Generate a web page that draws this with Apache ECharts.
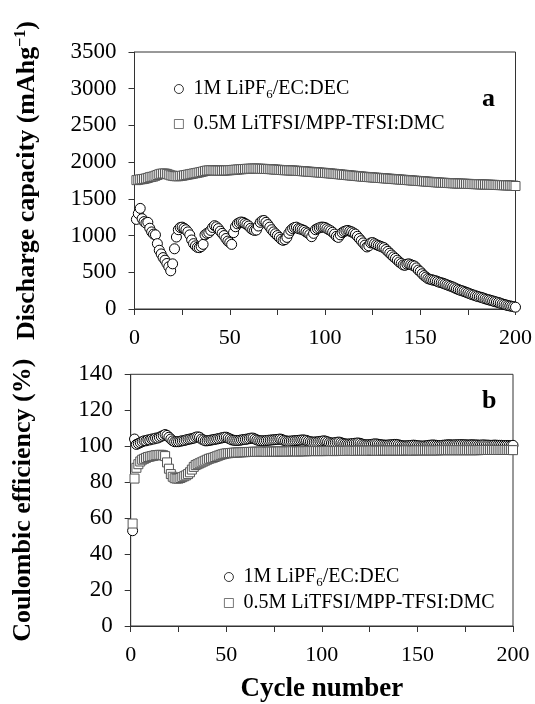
<!DOCTYPE html>
<html><head><meta charset="utf-8">
<script src="https://cdn.jsdelivr.net/npm/echarts@6/dist/echarts.min.js"></script>
<style>html,body{margin:0;padding:0;background:#fff}#c{width:535px;height:704px}</style>
</head><body><div id="c"></div>
<script>
const cycles = Array.from({length: 200}, (_, i) => i + 1);

const capLiPF6 = [
1220,1300,1370,1230,1190,1170,1180,1100,1050,1020,
1010,890,800,750,700,665,620,575,520,615,
820,980,1080,1110,1115,1100,1080,1050,1010,940,
890,860,840,835,850,880,1010,1030,1040,1070,
1110,1135,1120,1095,1060,1030,1000,960,925,905,
880,1040,1120,1160,1175,1185,1180,1165,1150,1130,
1100,1080,1070,1075,1130,1180,1200,1205,1180,1150,
1115,1080,1050,1025,1000,975,950,935,945,975,
1030,1070,1095,1110,1115,1095,1090,1080,1070,1050,
1035,1015,985,1030,1080,1095,1105,1115,1115,1110,
1095,1080,1065,1045,1020,990,975,1010,1040,1055,
1065,1070,1060,1050,1035,1020,990,960,930,900,
870,845,860,900,905,890,875,865,855,845,
835,810,785,760,735,710,690,665,640,620,
600,595,610,615,605,595,585,560,530,510,
480,455,435,415,405,398,392,385,375,365,
358,350,340,330,320,310,300,288,275,265,
255,248,238,228,218,208,198,190,180,172,
165,158,150,140,132,125,118,110,102,95,
88,80,70,62,55,47,42,37,32,25];

const capLiTFSI = [
1755,1760,1765,1768,1772,1778,1785,1795,1800,1805,
1815,1825,1835,1842,1845,1845,1840,1830,1820,1815,
1810,1808,1808,1812,1815,1820,1825,1830,1835,1840,
1845,1850,1855,1860,1866,1872,1880,1885,1888,1890,
1888,1887,1886,1885,1885,1885,1886,1887,1888,1890,
1892,1895,1897,1899,1901,1903,1905,1907,1909,1910,
1911,1912,1912,1912,1911,1910,1909,1908,1907,1906,
1905,1903,1901,1899,1897,1895,1893,1891,1890,1889,
1888,1887,1886,1885,1883,1881,1879,1877,1875,1873,
1871,1869,1867,1865,1863,1861,1859,1857,1855,1853,
1850,1848,1846,1843,1841,1838,1836,1833,1830,1828,
1825,1822,1820,1817,1815,1812,1810,1807,1805,1802,
1800,1798,1796,1794,1792,1790,1788,1786,1784,1782,
1780,1778,1776,1774,1772,1770,1768,1766,1764,1762,
1760,1758,1756,1754,1752,1750,1748,1746,1744,1742,
1740,1738,1736,1734,1732,1730,1728,1726,1724,1722,
1720,1719,1718,1716,1715,1714,1712,1711,1710,1709,
1708,1707,1706,1705,1704,1703,1702,1701,1700,1699,
1698,1697,1696,1695,1694,1693,1692,1691,1690,1689,
1688,1687,1686,1685,1684,1683,1682,1681,1680,1675];

const ceLiPF6 = [
53,104,101,101.5,102,102.5,103,103,103.5,103.5,
104,104,104.5,104.5,105,105.5,106,106.5,106,105,
104,103,102.5,102.5,102.5,102.8,103,103.2,103.5,103.8,
104,104.2,104.5,105,105.2,105,104,103.5,103,103,
103.2,103.4,103.6,103.8,104,104.2,104.5,104.7,105,105,
104.5,104,103.5,103.3,103.2,103.2,103.3,103.5,103.7,103.8,
104,104.2,104.5,104.5,104,103.5,103.2,103,103,103,
103.2,103.3,103.4,103.5,103.6,103.7,103.8,104,103.8,103.3,
103,102.8,102.8,102.9,103,103.1,103.2,103.3,103.4,103.5,
103.4,103.2,102.8,102.5,102.3,102.3,102.4,102.5,102.7,102.8,
103,102.8,102.4,102,101.8,101.8,102,102.2,102.3,102,
101.6,101.3,101.2,101.2,101.3,101.5,101.6,101.7,101.8,101.6,
101.2,100.9,100.8,100.8,100.9,101,101.2,101.3,101.2,101,
100.8,100.7,100.6,100.6,100.7,100.8,100.9,101,101,100.8,
100.5,100.3,100.2,100.2,100.3,100.4,100.5,100.6,100.5,100.3,
100.2,100.1,100.1,100.2,100.3,100.5,100.6,100.7,100.6,100.5,
100.4,100.4,100.5,100.6,100.7,100.8,100.8,100.7,100.7,100.8,
100.8,100.9,100.9,100.8,100.8,100.7,100.7,100.8,100.8,100.7,
100.7,100.6,100.6,100.7,100.7,100.6,100.6,100.5,100.5,100.6,
100.6,100.5,100.5,100.5,100.4,100.4,100.4,100.3,100.3,100.5];

const ceLiTFSI = [
57,82,88,90,91.5,92.5,93,93.5,94,94.2,
94.5,94.7,95,95,95.2,95.2,95,94.5,91,87.5,
84.5,83,82.2,82,82,82.3,82.8,83.3,83.8,84.5,
85.5,87,88.5,89.5,90,90.5,91,91.5,92,92.5,
93,93.3,93.6,94,94.4,94.8,95.2,95.5,95.8,96,
96.1,96.2,96.3,96.4,96.5,96.5,96.6,96.6,96.7,96.7,
96.8,96.8,96.8,96.9,96.9,96.9,96.9,97,97,97,
96.9,96.9,97,97,97,97,97,97.1,97.1,97.1,
97.1,97.1,97.1,97.2,97.2,97.2,97.1,97.1,97.2,97.2,
97.2,97.2,97.3,97.3,97.3,97.3,97.3,97.3,97.3,97.3,
97.3,97.3,97.4,97.4,97.4,97.3,97.3,97.4,97.4,97.4,
97.4,97.4,97.4,97.5,97.5,97.5,97.4,97.4,97.5,97.5,
97.5,97.5,97.5,97.5,97.5,97.6,97.6,97.5,97.5,97.5,
97.5,97.6,97.6,97.6,97.6,97.6,97.6,97.6,97.6,97.6,
97.6,97.6,97.6,97.7,97.7,97.7,97.6,97.6,97.7,97.7,
97.7,97.7,97.7,97.7,97.7,97.7,97.7,97.7,97.7,97.7,
97.7,97.8,97.8,97.8,97.8,97.8,97.8,97.8,97.8,97.8,
97.8,97.8,97.8,97.8,97.8,97.8,97.8,97.8,97.8,97.8,
97.8,97.8,97.9,97.9,97.9,97.9,97.9,97.9,97.9,97.9,
97.9,97.9,97.9,97.9,97.9,97.9,97.9,97.9,97.9,97.8];

const capTicks = [0, 500, 1000, 1500, 2000, 2500, 3000, 3500];
const ceTicks = [0, 20, 40, 60, 80, 100, 120, 140];
const xTickLabels = [0, 50, 100, 150, 200];

const NAME_A = 'LiPF6', NAME_B = 'LiTFSI';
const FONT = 'Liberation Serif';
const AX = '#333';

function pairs(vals) { return cycles.map((c, i) => [c, vals[i]]); }

function xAxis(gi, withName) {
  const a = {
    type: 'value', gridIndex: gi, min: 0, max: 200, interval: 25,
    axisLine: {show: true, lineStyle: {color: AX, width: 1}},
    axisTick: {show: true, inside: false, length: 6, lineStyle: {color: AX}},
    splitLine: {show: false},
    axisLabel: {margin: 18, fontSize: 22, fontFamily: FONT, color: '#000',
      formatter: v => xTickLabels.indexOf(v) >= 0 ? String(v) : ''}
  };
  if (withName) {
    a.name = 'Cycle number';
    a.nameLocation = 'middle';
    a.nameGap = 50;
    a.nameTextStyle = {fontSize: 27, fontWeight: 'bold', fontFamily: FONT, color: '#000'};
  }
  return a;
}

function yAxis(gi, ticks, name, rich) {
  return {
    type: 'value', gridIndex: gi, min: ticks[0], max: ticks[ticks.length - 1],
    interval: ticks[1] - ticks[0],
    axisLine: {show: true, lineStyle: {color: AX, width: 1}},
    axisTick: {show: true, inside: false, length: 6, lineStyle: {color: AX}},
    splitLine: {show: false},
    axisLabel: {margin: 18, fontSize: 23, fontFamily: FONT, color: '#000',
      formatter: v => String(v)},
    name: name, nameLocation: 'middle', nameGap: 92, nameRotate: 90,
    nameTextStyle: {fontSize: 26, fontWeight: 'bold', fontFamily: FONT, color: '#000', rich: rich}
  };
}

const titleRich = {
  t: {fontSize: 26, fontWeight: 'bold', fontFamily: FONT, color: '#000', lineHeight: 30},
  sup: {fontSize: 16, fontWeight: 'bold', fontFamily: FONT, color: '#000', lineHeight: 14, verticalAlign: 'top'}
};

const legendRich = {
  n: {fontSize: 20, fontFamily: FONT, color: '#000', lineHeight: 24},
  s: {fontSize: 13, fontFamily: FONT, color: '#000', lineHeight: 12, verticalAlign: 'bottom'}
};
function legendFmt(name) {
  return name === NAME_A ? '{n| 1M LiPF}{s|6}{n|/EC:DEC}' : '{n| 0.5M LiTFSI/MPP-TFSI:DMC}';
}
function legend(left, top, gap) {
  return {
    orient: 'vertical', left: left, top: top, padding: 0,
    itemWidth: 9, itemHeight: 9, itemGap: gap, selectedMode: false,
    itemStyle: {borderWidth: 0.8},
    data: [{name: NAME_A, icon: 'circle'}, {name: NAME_B, icon: 'rect'}],
    formatter: legendFmt,
    textStyle: {rich: legendRich}
  };
}

const circleStyle = {color: '#fff', borderColor: '#000', borderWidth: 1, opacity: 1};
const squareStyle = {color: '#fff', borderColor: '#555', borderWidth: 1, opacity: 1};

const chart = echarts.init(document.getElementById('c'), null, {renderer: 'canvas'});
chart.setOption({
  animation: false,
  backgroundColor: '#fff',
  title: [
    {text: 'a', left: 482, top: 86, padding: 0, textStyle: {fontSize: 26, fontWeight: 'bold', fontFamily: FONT, color: '#000'}},
    {text: 'b', left: 482, top: 388, padding: 0, textStyle: {fontSize: 26, fontWeight: 'bold', fontFamily: FONT, color: '#000'}}
  ],
  legend: [legend(174, 79, 13), legend(224, 567, 4)],
  grid: [
    {left: 134.5, top: 52, width: 382, height: 257, show: true, borderColor: AX, borderWidth: 1, backgroundColor: 'transparent'},
    {left: 130.7, top: 374.3, width: 382.3, height: 254.4, show: true, borderColor: AX, borderWidth: 1, backgroundColor: 'transparent'}
  ],
  xAxis: [xAxis(0, false), xAxis(1, true)],
  yAxis: [
    yAxis(0, capTicks, '{t|Discharge capacity (mAhg}{sup|−1}{t|)}', titleRich),
    yAxis(1, ceTicks, '{t|Coulombic efficiency (%)}', titleRich)
  ],
  series: [
    {name: NAME_B, type: 'scatter', xAxisIndex: 0, yAxisIndex: 0, symbol: 'rect', symbolSize: 9, itemStyle: squareStyle, data: pairs(capLiTFSI)},
    {name: NAME_A, type: 'scatter', xAxisIndex: 0, yAxisIndex: 0, symbol: 'circle', symbolSize: 10, itemStyle: circleStyle, data: pairs(capLiPF6)},
    {name: NAME_A, type: 'scatter', xAxisIndex: 1, yAxisIndex: 1, symbol: 'circle', symbolSize: 10, itemStyle: circleStyle, data: pairs(ceLiPF6)},
    {name: NAME_B, type: 'scatter', xAxisIndex: 1, yAxisIndex: 1, symbol: 'rect', symbolSize: 9, itemStyle: squareStyle, data: pairs(ceLiTFSI)}
  ]
});
</script></body></html>
